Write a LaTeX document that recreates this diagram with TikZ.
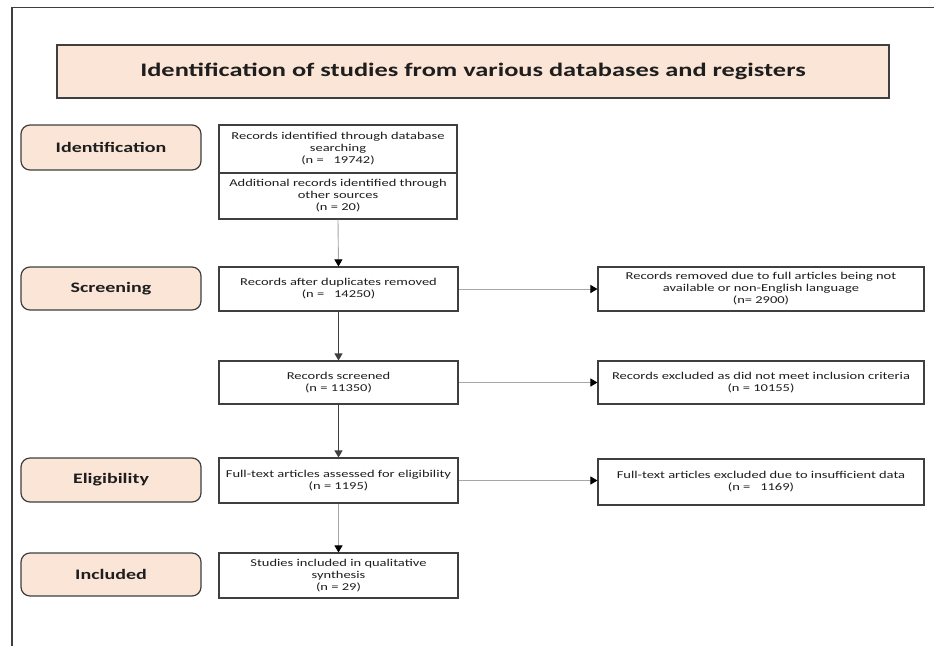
\documentclass[tikz,border=0pt]{standalone}
\usepackage{fontspec}
\setmainfont{Carlito}
\newfontfamily\widefont[FakeStretch=1.38]{Carlito}
\usetikzlibrary{arrows.meta}
\definecolor{peach}{HTML}{FBE5D6}
\definecolor{edge}{HTML}{3F3F3F}
\definecolor{txt}{HTML}{1E1E1E}
\definecolor{lgray}{HTML}{A6A6A6}
\tikzset{
  titlebox/.style={draw=edge, line width=1.3pt, fill=peach, minimum width=832pt, minimum height=53pt, inner sep=0pt, text=txt, font=\widefont\bfseries\fontsize{19.1}{22}\selectfont},
  phase/.style={draw=edge, line width=1.2pt, fill=peach, rounded corners=9pt, minimum width=180pt, inner sep=0pt, text=txt, font=\widefont\bfseries\fontsize{14.5}{17}\selectfont},
  flowbox/.style={draw=edge, line width=1.1pt, fill=white, minimum width=239pt, inner sep=0pt, align=center, text=txt, font=\widefont\fontsize{10.5}{12}\selectfont},
  sidebox/.style={flowbox, minimum width=326pt},
  darkarrow/.style={draw=edge, line width=1.2pt, -{Triangle[length=7pt,width=8pt]}},
  lightarrow/.style={draw=lgray, line width=0.9pt, -{Triangle[length=7pt,width=8pt,fill=black,color=black]}},
}
\begin{document}
\begin{tikzpicture}[x=1pt,y=-1pt]
\useasboundingbox (0,0) rectangle (934,646);
\fill[white] (0,0) rectangle (934,646);
% frame
\coordinate (ftl) at (12,7.5);
\coordinate (ftr) at (934,7.5);
\coordinate (fbl) at (12,646);
\draw[edge, line width=1.3pt] (fbl) -- (ftl) -- (ftr);
% title
\node[titlebox] (title) at (473,71.5) {Identification of studies from various databases and registers};
% phases
\node[phase, minimum height=45pt] (pid) at (111,147.5) {Identification};
\node[phase, minimum height=43pt] (pscr) at (111,288.5) {Screening};
\node[phase, minimum height=44pt] (pel) at (111,480) {Eligibility};
\node[phase, minimum height=43pt] (pinc) at (111,574.5) {Included};
% main column
\node[flowbox, minimum width=238pt, minimum height=48pt] (idtop) at (338,149) {Records identified through database\\searching\\(n =\ \ \ 19742)};
\node[flowbox, minimum width=238pt, minimum height=46pt] (idbot) at (338,196) {Additional records identified through\\other sources\\(n = 20)};
\node[flowbox, minimum height=44pt] (dup) at (338.5,289) {Records after duplicates removed\\(n =\ \ \ 14250)};
\node[flowbox, minimum height=43pt] (scr) at (338.5,382.5) {Records screened\\(n = 11350)};
\node[flowbox, minimum height=45pt] (ft) at (338.5,480.5) {Full-text articles assessed for eligibility\\(n = 1195)};
\node[flowbox, minimum height=45pt] (inc) at (338.5,575.5) {Studies included in qualitative\\synthesis\\(n = 29)};
% side column
\node[sidebox, minimum height=44pt] (rem) at (761,289) {Records removed due to full articles being not\\available or non-English language\\(n= 2900)};
\node[sidebox, minimum height=43pt] (exc) at (761,382.5) {Records excluded as did not meet inclusion criteria\\(n = 10155)};
\node[sidebox, minimum height=46pt] (fte) at (761,482) {Full-text articles excluded due to insufficient data\\(n =\ \ \ 1169)};
% arrows
\draw[lightarrow] (idbot.south) -- (dup.north);
\draw[darkarrow] (dup.south) -- (scr.north);
\draw[darkarrow] (scr.south) -- (ft.north);
\draw[lightarrow] (ft.south) -- (inc.north);
\draw[lightarrow] (dup.east) -- (rem.west |- dup.east);
\draw[lightarrow] (scr.east) -- (exc.west |- scr.east);
\draw[lightarrow] (ft.east) -- (fte.west |- ft.east);
\end{tikzpicture}
\end{document}
